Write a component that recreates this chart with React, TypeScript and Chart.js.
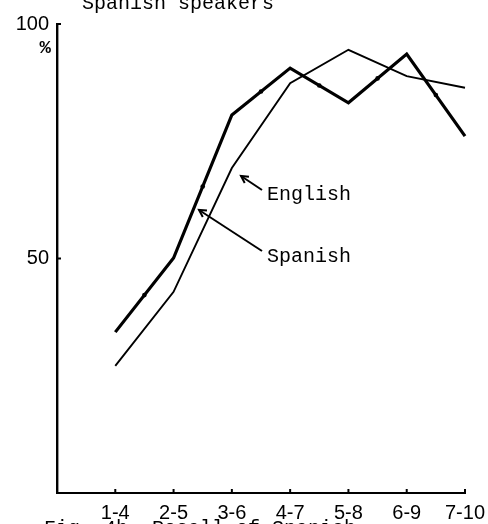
import React, { useEffect, useRef } from "react";
import { Chart, registerables } from "chart.js";

Chart.register(...registerables);

const categories = ["1-4", "2-5", "3-6", "4-7", "5-8", "6-9", "7-10"];
const spanishValues = [34.3, 50.1, 80.6, 90.6, 83.2, 93.6, 76.1];
const englishValues = [27.1, 42.9, 69.3, 87.4, 94.5, 88.9, 86.4];
const yTickValues = [50, 100];
const titleText = "Spanish speakers";
const captionText = "Fig. 4b. Recall of Spanish";

const MONO = "'Liberation Mono', 'DejaVu Sans Mono', monospace";
const SANS = "'Liberation Sans', Arial, sans-serif";

const annotate = {
  id: "annotate",
  afterDraw(chart: any) {
    const ctx = chart.ctx as CanvasRenderingContext2D;
    const xs = chart.scales.x;
    const ys = chart.scales.y;
    ctx.save();
    ctx.fillStyle = "#000";
    ctx.strokeStyle = "#000";

    // title (clipped at top) and caption (clipped at bottom)
    ctx.font = `20px ${MONO}`;
    ctx.textBaseline = "alphabetic";
    ctx.textAlign = "left";
    ctx.fillText(titleText, 82, 9);
    ctx.fillText(captionText, 44, 534);

    // percent sign
    ctx.font = `bold 19px ${MONO}`;
    ctx.textAlign = "right";
    ctx.textBaseline = "middle";
    ctx.fillText("%", 51, 48);

    // inward ticks
    ctx.lineWidth = 2;
    yTickValues.forEach((v) => {
      const py = ys.getPixelForValue(v);
      ctx.beginPath();
      ctx.moveTo(xs.left, py);
      ctx.lineTo(xs.left + 4, py);
      ctx.stroke();
    });
    categories.forEach((_, i) => {
      const px = xs.getPixelForValue(i + 1);
      ctx.beginPath();
      ctx.moveTo(px, ys.bottom);
      ctx.lineTo(px, ys.bottom - 4);
      ctx.stroke();
    });

    // midpoint markers on the Spanish line
    const meta = chart.getDatasetMeta(0);
    for (let i = 0; i < meta.data.length - 1; i++) {
      const a = meta.data[i];
      const b = meta.data[i + 1];
      ctx.beginPath();
      ctx.arc((a.x + b.x) / 2, (a.y + b.y) / 2, 2.3, 0, Math.PI * 2);
      ctx.fill();
    }

    // arrows
    const arrow = (x1: number, y1: number, x2: number, y2: number) => {
      ctx.lineWidth = 2;
      ctx.beginPath();
      ctx.moveTo(x1, y1);
      ctx.lineTo(x2, y2);
      ctx.stroke();
      const ang = Math.atan2(y2 - y1, x2 - x1);
      const L = 8;
      ctx.beginPath();
      ctx.moveTo(x2 - L * Math.cos(ang - 0.5), y2 - L * Math.sin(ang - 0.5));
      ctx.lineTo(x2, y2);
      ctx.lineTo(x2 - L * Math.cos(ang + 0.5), y2 - L * Math.sin(ang + 0.5));
      ctx.stroke();
    };
    arrow(262, 190, 241, 176);
    arrow(262, 251, 199, 210);

    ctx.font = `20px ${MONO}`;
    ctx.textAlign = "left";
    ctx.textBaseline = "alphabetic";
    ctx.fillText("English", 267, 200);
    ctx.fillText("Spanish", 267, 262);
    ctx.restore();
  },
};

export default function App() {
  const ref = useRef<HTMLCanvasElement>(null);
  useEffect(() => {
    if (!ref.current) return;
    const chart = new Chart(ref.current, {
      type: "line",
      data: {
        datasets: [
          {
            label: "Spanish",
            data: spanishValues.map((y, i) => ({ x: i + 1, y })),
            borderColor: "#000",
            borderWidth: 3.2,
            pointRadius: 0,
            tension: 0,
            clip: false,
          },
          {
            label: "English",
            data: englishValues.map((y, i) => ({ x: i + 1, y })),
            borderColor: "#000",
            borderWidth: 1.9,
            pointRadius: 0,
            tension: 0,
            clip: false,
          },
        ],
      },
      options: {
        animation: false,
        responsive: false,
        devicePixelRatio: 1,
        layout: { padding: { top: 24, right: 23, left: 0, bottom: 0 } },
        plugins: { legend: { display: false }, title: { display: false }, tooltip: { enabled: false } },
        scales: {
          x: {
            type: "linear",
            min: 0,
            max: 7,
            afterBuildTicks: (s: any) => {
              s.ticks = categories.map((_, i) => ({ value: i + 1 }));
            },
            afterFit: (s: any) => {
              s.height = 31;
              s.paddingLeft = 0;
              s.paddingRight = 0;
            },
            ticks: {
              autoSkip: false,
              maxRotation: 0,
              padding: 8,
              color: "#000",
              font: { family: SANS, size: 20 },
              callback: (v: any) => categories[Number(v) - 1] ?? "",
            },
            grid: { display: false, drawTicks: false },
            border: { display: true, color: "#000", width: 2 },
          },
          y: {
            type: "linear",
            min: 0,
            max: 100,
            afterBuildTicks: (s: any) => {
              s.ticks = yTickValues.map((v) => ({ value: v }));
            },
            afterFit: (s: any) => {
              s.width = 57;
              s.paddingTop = 0;
              s.paddingBottom = 0;
            },
            ticks: {
              padding: 8,
              color: "#000",
              font: { family: SANS, size: 20 },
              callback: (v: any) => String(v),
            },
            grid: { display: false, drawTicks: false },
            border: { display: true, color: "#000", width: 2.4 },
          },
        },
      },
      plugins: [annotate],
    });
    return () => chart.destroy();
  }, []);
  return (
    <div style={{ position: "absolute", left: 0, top: 0, width: 488, height: 524, background: "#fff" }}>
      <canvas ref={ref} width={488} height={524} style={{ width: 488, height: 524, display: "block" }} />
    </div>
  );
}
